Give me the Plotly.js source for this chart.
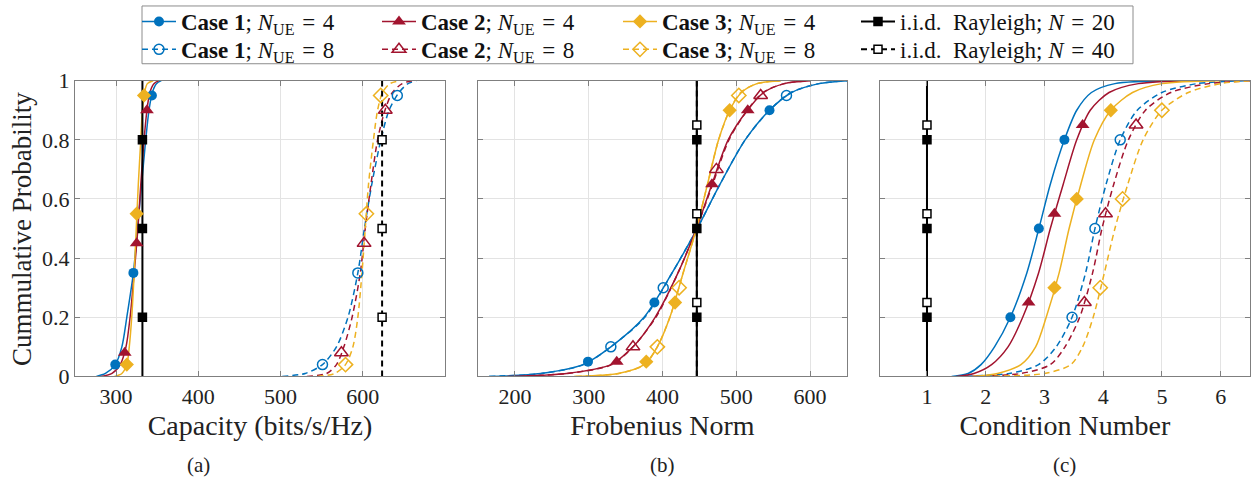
<!DOCTYPE html>
<html>
<head>
<meta charset="utf-8">
<script src="https://cdn.plot.ly/plotly-3.0.1.min.js"></script>
<style>html,body{margin:0;padding:0;background:#fff;} #chart{width:1254px;height:479px;}</style>
</head>
<body>
<div id="chart"></div>
<script>
// ---------- DATA ----------
// cumulative probability levels at which the curve quantiles were read
const probLevels = [0, 0.01, 0.04, 0.1, 0.2, 0.35, 0.5, 0.65, 0.8, 0.9, 0.96, 0.99, 1];
const rayProb = [0, 1];

// (a) Capacity (bits/s/Hz)
const capC1N4 = [276, 287, 299, 307, 313, 321, 326, 331, 336, 340, 344, 349, 355];
const capC2N4 = [282, 295, 305, 312, 317, 322, 326.5, 330, 334, 337.5, 341, 346, 352];
const capC3N4 = [298, 307, 313, 316, 319, 322, 324.5, 327, 330, 332, 334.5, 338, 345];
const capC1N8 = [502, 530, 551, 568, 582, 594, 602, 611, 622, 632, 644, 655, 665];
const capC2N8 = [532, 556, 568, 577, 587, 597, 603, 610, 618, 627, 636, 648, 660];
const capC3N8 = [545, 566, 579, 588, 594, 599, 603, 607, 613, 618, 624, 633, 645];
const capRay20 = [332, 332];
const capRay40 = [623.5, 623.5];
const capC1N4MkX = [299, 321, 343.5],  capC1N4MkP = [0.04, 0.35, 0.95];
const capC2N4MkX = [310.5, 325, 337.5], capC2N4MkP = [0.08, 0.45, 0.90];
const capC3N4MkX = [313, 325, 334],     capC3N4MkP = [0.04, 0.55, 0.95];
const capC1N8MkX = [551, 594, 642],     capC1N8MkP = [0.04, 0.35, 0.95];
const capC2N8MkX = [574, 601.6, 627.4], capC2N8MkP = [0.08, 0.45, 0.90];
const capC3N8MkX = [579, 604.4, 621.8], capC3N8MkP = [0.04, 0.55, 0.95];
const capRay20MkX = [332, 332, 332],    capRay20MkP = [0.2, 0.5, 0.8];
const capRay40MkX = [623.5, 623.5, 623.5], capRay40MkP = [0.2, 0.5, 0.8];

// (b) Frobenius Norm
const froC1N4 = [165, 235, 292, 330, 375, 413, 447, 478, 512, 545, 575, 612, 650];
const froC2N4 = [190, 270, 330, 360, 390, 421, 446, 467, 489, 515, 537, 565, 600];
const froC3N4 = [280, 340, 375, 393, 410, 428, 446, 461, 476, 491, 507, 528, 560];
const froC1N8 = [165, 236, 293, 330, 376, 413, 447, 478, 512, 545, 574, 612, 650];
const froC2N8 = [190, 271, 331, 360, 391, 421, 446, 468, 490, 515, 536, 565, 600];
const froC3N8 = [282, 341, 376, 393, 410, 428, 446, 461, 476, 491, 506, 528, 560];
const froRay20 = [446.5, 446.5];
const froRay40 = [446.5, 446.5];
const froC1N4MkX = [299, 389, 545],     froC1N4MkP = [0.05, 0.25, 0.90];
const froC2N4MkX = [338, 467, 515.5],   froC2N4MkP = [0.05, 0.65, 0.90];
const froC3N4MkX = [378, 417, 491],     froC3N4MkP = [0.05, 0.25, 0.90];
const froC1N8MkX = [330, 401, 568],     froC1N8MkP = [0.10, 0.30, 0.95];
const froC2N8MkX = [360, 473, 533],     froC2N8MkP = [0.10, 0.70, 0.95];
const froC3N8MkX = [393, 422.5, 503.4], froC3N8MkP = [0.10, 0.30, 0.95];
const froRay20MkX = [446.5, 446.5, 446.5], froRay20MkP = [0.2, 0.5, 0.8];
const froRay40MkX = [446.5, 446.5, 446.5], froRay40MkP = [0.25, 0.55, 0.85];

// (c) Condition Number
const condC1N4 = [1.42, 1.7, 1.92, 2.15, 2.42, 2.7, 2.905, 3.1, 3.34, 3.55, 3.8, 4.2, 5.2];
const condC2N4 = [1.5, 1.8, 2.1, 2.38, 2.63, 2.9, 3.1, 3.32, 3.55, 3.78, 4.1, 4.6, 5.6];
const condC3N4 = [1.78, 2.2, 2.6, 2.85, 3.03, 3.25, 3.42, 3.62, 3.85, 4.13, 4.5, 5.0, 6.0];
const condC1N8 = [1.5, 2.4, 2.9, 3.2, 3.47, 3.7, 3.86, 4.05, 4.29, 4.58, 5.0, 5.6, 6.5];
const condC2N8 = [1.6, 2.6, 3.1, 3.35, 3.6, 3.82, 3.98, 4.18, 4.43, 4.72, 5.15, 5.8, 6.5];
const condC3N8 = [1.8, 3.0, 3.45, 3.65, 3.83, 4.02, 4.2, 4.42, 4.68, 5.0, 5.45, 6.0, 6.5];
const condRay20 = [1.0, 1.0];
const condRay40 = [1.0, 1.0];
const condC1N4MkX = [2.42, 2.905, 3.34], condC1N4MkP = [0.2, 0.5, 0.8];
const condC2N4MkX = [2.73, 3.17, 3.65],  condC2N4MkP = [0.25, 0.55, 0.85];
const condC3N4MkX = [3.17, 3.55, 4.13],  condC3N4MkP = [0.30, 0.60, 0.90];
const condC1N8MkX = [3.47, 3.86, 4.29],  condC1N8MkP = [0.2, 0.5, 0.8];
const condC2N8MkX = [3.68, 4.04, 4.56],  condC2N8MkP = [0.25, 0.55, 0.85];
const condC3N8MkX = [3.95, 4.33, 5.0],   condC3N8MkP = [0.30, 0.60, 0.90];
const condRay20MkX = [1.0, 1.0, 1.0], condRay20MkP = [0.2, 0.5, 0.8];
const condRay40MkX = [1.0, 1.0, 1.0], condRay40MkP = [0.25, 0.55, 0.85];

// labels
const EQ = ' \u200A=\u200A ';
const seriesNames = [
  '<b>Case 1</b>; <i>N</i><sub>UE</sub>' + EQ + '4',
  '<b>Case 2</b>; <i>N</i><sub>UE</sub>' + EQ + '4',
  '<b>Case 3</b>; <i>N</i><sub>UE</sub>' + EQ + '4',
  'i.i.d.  Rayleigh; <i>N</i>' + EQ + '20',
  '<b>Case 1</b>; <i>N</i><sub>UE</sub>' + EQ + '8',
  '<b>Case 2</b>; <i>N</i><sub>UE</sub>' + EQ + '8',
  '<b>Case 3</b>; <i>N</i><sub>UE</sub>' + EQ + '8',
  'i.i.d.  Rayleigh; <i>N</i>' + EQ + '40'
];
const xTitles = ['Capacity (bits/s/Hz)', 'Frobenius Norm', 'Condition Number'];
const yTitle = 'Cummulative Probability';
const panelLabels = ['(a)', '(b)', '(c)'];
const xTicks = [[300, 400, 500, 600], [200, 300, 400, 500, 600], [1, 2, 3, 4, 5, 6]];
const xRanges = [[250, 700], [150, 650], [0.2, 6.5]];

// ---------- STYLE ----------
const FONT = "'Liberation Serif', 'DejaVu Serif', 'Times New Roman', serif";
const BLUE = '#0072BD', RED = '#A2142F', YEL = '#EDB120', BLK = '#000000';
const DASH = '6px,4px';
const styles = [
  {color: BLUE, dash: 'solid', symbol: 'circle', size: 10, open: false},
  {color: RED,  dash: 'solid', symbol: 'triangle-up', size: 12, open: false},
  {color: YEL,  dash: 'solid', symbol: 'diamond', size: 11, open: false},
  {color: BLK,  dash: 'solid', symbol: 'square', size: 8, open: false, ray: true},
  {color: BLUE, dash: DASH, symbol: 'circle-open', size: 10, open: true},
  {color: RED,  dash: DASH, symbol: 'triangle-up-open', size: 12, open: true},
  {color: YEL,  dash: DASH, symbol: 'diamond-open', size: 11, open: true},
  {color: BLK,  dash: DASH, symbol: 'square', size: 8, open: true, ray: true}
];
// legend grid: 4 columns x 2 rows, one legend box per entry
const legendColLineStart = [144, 384, 625, 863];
const legendRowCenter = [19, 47];

const panels = [
  {curves: [capC1N4, capC2N4, capC3N4, capRay20, capC1N8, capC2N8, capC3N8, capRay40],
   mkx: [capC1N4MkX, capC2N4MkX, capC3N4MkX, capRay20MkX, capC1N8MkX, capC2N8MkX, capC3N8MkX, capRay40MkX],
   mkp: [capC1N4MkP, capC2N4MkP, capC3N4MkP, capRay20MkP, capC1N8MkP, capC2N8MkP, capC3N8MkP, capRay40MkP]},
  {curves: [froC1N4, froC2N4, froC3N4, froRay20, froC1N8, froC2N8, froC3N8, froRay40],
   mkx: [froC1N4MkX, froC2N4MkX, froC3N4MkX, froRay20MkX, froC1N8MkX, froC2N8MkX, froC3N8MkX, froRay40MkX],
   mkp: [froC1N4MkP, froC2N4MkP, froC3N4MkP, froRay20MkP, froC1N8MkP, froC2N8MkP, froC3N8MkP, froRay40MkP]},
  {curves: [condC1N4, condC2N4, condC3N4, condRay20, condC1N8, condC2N8, condC3N8, condRay40],
   mkx: [condC1N4MkX, condC2N4MkX, condC3N4MkX, condRay20MkX, condC1N8MkX, condC2N8MkX, condC3N8MkX, condRay40MkX],
   mkp: [condC1N4MkP, condC2N4MkP, condC3N4MkP, condRay20MkP, condC1N8MkP, condC2N8MkP, condC3N8MkP, condRay40MkP]}
];

function markerOf(s) {
  if (s.ray) {
    return {symbol: 'square', size: s.size, color: s.open ? '#ffffff' : BLK,
            line: {color: BLK, width: 1.5}};
  }
  return {symbol: s.symbol, size: s.size, color: s.color,
          line: {color: s.color, width: s.open ? 1.5 : 0}};
}

const traces = [];
const drawOrder = [4, 5, 6, 0, 1, 2, 3, 7];
panels.forEach((p, k) => {
  const xa = k === 0 ? 'x' : 'x' + (k + 1);
  const ya = k === 0 ? 'y' : 'y' + (k + 1);
  drawOrder.forEach(i => {
    const s = styles[i];
    traces.push({
      type: 'scatter', mode: 'lines', xaxis: xa, yaxis: ya, showlegend: false,
      x: p.curves[i], y: s.ray ? rayProb : probLevels,
      line: {color: s.color, width: s.ray ? 2 : 1.5, dash: s.dash, shape: s.ray ? 'linear' : 'spline', smoothing: 0.8},
      hoverinfo: 'skip'
    });
  });
  drawOrder.forEach(i => {
    const s = styles[i];
    traces.push({
      type: 'scatter', mode: 'markers', xaxis: xa, yaxis: ya, showlegend: false,
      x: p.mkx[i], y: p.mkp[i], marker: markerOf(s), hoverinfo: 'skip'
    });
  });
});
// legend entries, one legend per entry
styles.forEach((s, i) => {
  traces.push({
    type: 'scatter', mode: 'lines+markers', xaxis: 'x', yaxis: 'y',
    x: [null], y: [null], name: seriesNames[i], showlegend: true,
    legend: i === 0 ? 'legend' : 'legend' + (i + 1),
    line: {color: s.color, width: s.ray ? 2 : 1.5, dash: s.dash},
    marker: markerOf(s)
  });
});

const W = 1254, H = 479;
const xDomains = [[75 / W, 445 / W], [478 / W, 847 / W], [880 / W, 1250 / W]];
const yDomain = [103 / H, 400 / H];

function xaxisCfg(k) {
  return {
    domain: xDomains[k], range: xRanges[k], tickvals: xTicks[k], anchor: k === 0 ? 'y' : 'y' + (k + 1),
    showgrid: true, gridcolor: '#e3e3e3', gridwidth: 1, zeroline: false,
    showline: true, linecolor: '#7f7f7f', linewidth: 1, mirror: 'ticks',
    ticks: 'inside', ticklen: 5, tickcolor: '#7f7f7f',
    tickfont: {family: FONT, size: 22, color: '#222'},
    title: {text: xTitles[k], font: {family: FONT, size: 28, color: '#222'}, standoff: 7},
    automargin: false, fixedrange: true
  };
}
function yaxisCfg(k) {
  return {
    domain: yDomain, range: [0, 1], tickvals: [0, 0.2, 0.4, 0.6, 0.8, 1], anchor: k === 0 ? 'x' : 'x' + (k + 1),
    showticklabels: k === 0,
    showgrid: true, gridcolor: '#e3e3e3', gridwidth: 1, zeroline: false,
    showline: true, linecolor: '#7f7f7f', linewidth: 1, mirror: 'ticks',
    ticks: 'inside', ticklen: 5, tickcolor: '#7f7f7f',
    tickfont: {family: FONT, size: 22, color: '#222'},
    automargin: false, fixedrange: true
  };
}

function legendCfg(i) {
  const col = i % 4, row = Math.floor(i / 4);
  return {
    orientation: 'v', x: (legendColLineStart[col] - 7) / W, y: 1 - (legendRowCenter[row] - 21) / H,
    xanchor: 'left', yanchor: 'top',
    itemwidth: 34, font: {family: FONT, size: 23, color: '#111'},
    bgcolor: 'rgba(0,0,0,0)', borderwidth: 0, traceorder: 'normal', tracegroupgap: 0
  };
}

const annotations = panelLabels.map((t, k) => ({
  text: t, xref: 'paper', yref: 'paper', showarrow: false,
  x: [198 / W, 662 / W, 1064 / W][k], y: 1 - 465 / H, xanchor: 'center', yanchor: 'middle',
  font: {family: FONT, size: 21, color: '#222'}
}));
// y-axis title of the first panel
annotations.push({
  text: yTitle, xref: 'paper', yref: 'paper', showarrow: false, textangle: -90,
  x: 22 / W, y: 1 - 228 / H, xanchor: 'center', yanchor: 'middle',
  font: {family: FONT, size: 27, color: '#222'}
});

const layout = {
  width: W, height: H,
  margin: {l: 0, r: 0, t: 0, b: 0},
  paper_bgcolor: '#ffffff', plot_bgcolor: '#ffffff',
  font: {family: FONT, size: 20, color: '#222'},
  showlegend: true,
  shapes: [{type: 'rect', xref: 'paper', yref: 'paper', x0: 142 / W, x1: 1133 / W, y0: 1 - 62 / H, y1: 1 - 4 / H,
            line: {color: '#8c8c8c', width: 1}, fillcolor: '#ffffff', layer: 'above'}],
  xaxis: xaxisCfg(0), xaxis2: xaxisCfg(1), xaxis3: xaxisCfg(2),
  yaxis: yaxisCfg(0), yaxis2: yaxisCfg(1), yaxis3: yaxisCfg(2),
  annotations: annotations
};
for (let i = 0; i < 8; i++) layout[i === 0 ? 'legend' : 'legend' + (i + 1)] = legendCfg(i);

Plotly.newPlot('chart', traces, layout, {staticPlot: true, displayModeBar: false});
</script>
</body>
</html>
